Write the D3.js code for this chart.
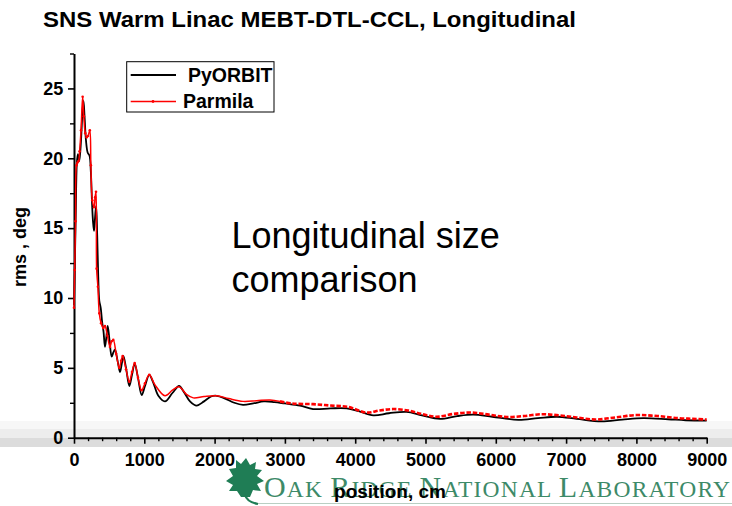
<!DOCTYPE html>
<html>
<head>
<meta charset="utf-8">
<script src="https://cdn.jsdelivr.net/npm/d3@7"></script>
<style>
  html, body { margin: 0; padding: 0; background: #ffffff; }
  svg { display: block; }
  text { font-family: Arial, "Liberation Sans", Helvetica, sans-serif; }
</style>
</head>
<body>
<svg id="chart" width="732" height="506"></svg>
<script>
// ---- data: rms bunch length (deg) along the warm linac (position in cm) ----
const pyorbitPos = [0, 12, 25, 40, 55, 75, 100, 120, 135, 150, 170, 195, 220, 240, 255, 270, 285, 300, 315, 330,
  345, 360, 380, 400, 420, 441, 460, 479, 505, 536, 560, 583, 620, 654, 680, 702, 740, 787, 825, 863,
  910, 963, 1010, 1071, 1130, 1200, 1294, 1400, 1494, 1560, 1650, 1745, 1850, 1950, 2030, 2150, 2280, 2404, 2550, 2700,
  2850, 3000, 3215, 3400, 3650, 3880, 4050, 4258, 4480, 4730, 4950, 5205, 5450, 5680, 5950, 6320, 6600, 6870, 7150, 7500,
  7800, 8100, 8450, 8700, 9000];
const pyorbitRms = [9.5, 12.5, 16.0, 19.6, 20.3, 19.8, 21.3, 23.3, 24.1, 23.0, 21.3, 20.4, 20.2, 19.0, 17.0, 15.5, 14.8, 15.8, 16.6, 14.5,
  11.5, 9.8, 9.3, 8.3, 7.6, 6.5, 7.2, 8.0, 7.0, 5.8, 6.1, 6.3, 5.5, 4.7, 5.3, 5.85, 5.0, 3.7, 4.5, 5.3,
  4.3, 3.05, 3.7, 4.5, 3.9, 3.0, 2.6, 3.2, 3.7, 3.3, 2.6, 2.3, 2.6, 2.95, 3.0, 2.8, 2.5, 2.35, 2.45, 2.6,
  2.55, 2.45, 2.3, 2.05, 2.1, 2.1, 1.9, 1.6, 1.75, 1.85, 1.6, 1.35, 1.55, 1.65, 1.5, 1.28, 1.4, 1.5, 1.35, 1.17,
  1.3, 1.4, 1.32, 1.25, 1.22];

const parmilaPos = [0, 10, 22, 35, 50, 65, 80, 100, 123, 140, 160, 180, 200, 225, 240, 260, 285, 300, 313, 322,
  340, 360, 385, 417, 440, 475, 512, 535, 559, 600, 644, 670, 692, 740, 787, 825, 863, 910, 963, 1010,
  1071, 1150, 1294, 1400, 1494, 1600, 1697, 1850, 2030, 2200, 2404, 2600, 2788, 2930, 3100, 3400, 3650, 3900, 4160, 4350,
  4540, 4750, 4950, 5160, 5400, 5650, 5900, 6155, 6400, 6650, 6900, 7150, 7420, 7700, 8000, 8300, 8600, 8800, 9000];
const parmilaRms = [9.3, 12.0, 15.5, 19.5, 19.7, 19.8, 20.5, 22.0, 24.4, 23.0, 21.8, 21.5, 21.6, 22.0, 19.5, 17.0, 16.5, 17.2, 17.6, 12.1,
  10.8, 8.9, 8.2, 7.85, 8.0, 7.3, 6.5, 6.9, 7.0, 6.0, 5.0, 5.5, 5.85, 4.9, 4.0, 4.7, 5.35, 4.3, 3.4, 3.9,
  4.5, 3.8, 3.0, 3.4, 3.65, 3.1, 2.85, 2.95, 3.0, 2.8, 2.6, 2.65, 2.7, 2.6, 2.45, 2.4, 2.3, 2.2, 1.8, 1.95,
  2.05, 1.95, 1.7, 1.5, 1.7, 1.8, 1.65, 1.48, 1.55, 1.68, 1.6, 1.45, 1.3, 1.45, 1.62, 1.55, 1.4, 1.35, 1.3];

const seriesNames = ["PyORBIT", "Parmila"];
const xMajorTicks = [0, 1000, 2000, 3000, 4000, 5000, 6000, 7000, 8000, 9000];
const yMajorTicks = [0, 5, 10, 15, 20, 25];

const svg = d3.select("#chart");

// ---- slide footer: grey band and laboratory logo ----
svg.append("rect").attr("x", 0).attr("y", 421).attr("width", 732).attr("height", 8).attr("fill", "#f7f7f7");
svg.append("rect").attr("x", 0).attr("y", 429).attr("width", 732).attr("height", 9).attr("fill", "#ededed");
svg.append("rect").attr("x", 0).attr("y", 438).attr("width", 732).attr("height", 9).attr("fill", "#dcdcdc");

const logo = svg.append("g");
logo.append("line").attr("x1", 256).attr("x2", 732).attr("y1", 503.5).attr("y2", 503.5)
  .attr("stroke", "#b9cfc3").attr("stroke-width", 1.2);
// oak leaf emblem
logo.append("path")
  .attr("transform", "translate(245,458)")
  .attr("d", "M1,0 L5,7 L11,4 L10,11 L17,12 L12,18 L19,23 L12,26 L16,33 L8,32 L5,39 L-4,39 L-8,33 L-16,33 L-12,27 L-19,23 L-12,18 L-16,11 L-9,10 L-9,2 L-4,6 Z")
  .attr("fill", "#1f7d55");
logo.append("path")
  .attr("transform", "translate(245,458)")
  .attr("d", "M0,37 Q2,44 13,46")
  .attr("fill", "none").attr("stroke", "#1f7d55").attr("stroke-width", 2.2);
const orn = logo.append("text")
  .attr("x", 264).attr("y", 497)
  .attr("textLength", 466).attr("lengthAdjust", "spacing")
  .style("font-family", "'Liberation Serif', 'Times New Roman', serif")
  .attr("fill", "#3d8a68");
[["O", 30], ["AK ", 23.5], ["R", 30], ["IDGE ", 23.5], ["N", 30], ["ATIONAL ", 23.5], ["L", 30], ["ABORATORY", 23.5]]
  .forEach(([t, s]) => orn.append("tspan").attr("font-size", s).text(t));

// ---- scales ----
const x = d3.scaleLinear().domain([0, 9000]).range([74, 706.7]);
const y = d3.scaleLinear().domain([0, 27.5]).range([437.7, 53.5]);

// ---- title ----
svg.append("text").attr("x", 43).attr("y", 27)
  .attr("font-size", 22).attr("font-weight", "bold")
  .attr("textLength", 533).attr("lengthAdjust", "spacingAndGlyphs")
  .text("SNS Warm Linac MEBT-DTL-CCL, Longitudinal");

// ---- axes ----
const xMinor = d3.range(0, 9001, 200).filter(v => v % 1000 !== 0);
const yMinor = [2.5, 7.5, 12.5, 17.5, 22.5, 27.5];

svg.append("g").attr("transform", "translate(0,437.7)")
  .call(d3.axisBottom(x).tickValues(xMinor).tickSize(3.5).tickFormat(""))
  .call(g => g.select(".domain").remove())
  .call(g => g.selectAll("line").attr("stroke-width", 1.4));
svg.append("g").attr("transform", "translate(74,0)")
  .call(d3.axisLeft(y).tickValues(yMinor).tickSize(4).tickFormat(""))
  .call(g => g.select(".domain").remove())
  .call(g => g.selectAll("line").attr("stroke-width", 1.4));

const xAxis = svg.append("g").attr("transform", "translate(0,437.7)")
  .call(d3.axisBottom(x).tickValues(xMajorTicks).tickSize(6).tickSizeOuter(0).tickPadding(9.5).tickFormat(d3.format("d")));
const yAxis = svg.append("g").attr("transform", "translate(74,0)")
  .call(d3.axisLeft(y).tickValues(yMajorTicks).tickSize(6).tickSizeOuter(0).tickPadding(4.7).tickFormat(d3.format("d")));
[xAxis, yAxis].forEach(a => {
  a.select(".domain").attr("stroke-width", 2);
  a.selectAll(".tick line").attr("stroke-width", 1.6);
  a.selectAll("text").attr("font-size", 18).attr("font-weight", "bold")
    .attr("font-family", "Arial, 'Liberation Sans', sans-serif").attr("fill", "#000");
});

// axis titles
svg.append("text").attr("transform", "translate(26,247) rotate(-90)")
  .attr("text-anchor", "middle").attr("font-size", 18).attr("font-weight", "bold")
  .text("rms , deg");
svg.append("text").attr("x", 390).attr("y", 498)
  .attr("text-anchor", "middle").attr("font-size", 19).attr("font-weight", "bold")
  .text("position, cm");

// ---- curves ----
const line = d3.line().x(d => x(d[0])).y(d => y(d[1])).curve(d3.curveCatmullRom.alpha(0.5));
const pyData = pyorbitPos.map((p, i) => [p, pyorbitRms[i]]);
const pmData = parmilaPos.map((p, i) => [p, parmilaRms[i]]);

svg.append("path").datum(pyData).attr("d", line)
  .attr("fill", "none").attr("stroke", "#000").attr("stroke-width", 1.8);

// Parmila: thin line with point markers upstream, dense dashed markers downstream
const split = 2930;
svg.append("path").datum(pmData.filter(d => d[0] <= split)).attr("d", line)
  .attr("fill", "none").attr("stroke", "#ff0000").attr("stroke-width", 1.5);
svg.append("path").datum(pmData.filter(d => d[0] >= split)).attr("d", line)
  .attr("fill", "none").attr("stroke", "#ff0000").attr("stroke-width", 2.6)
  .attr("stroke-dasharray", "4.5,1.8");
svg.append("g").selectAll("circle").data(pmData.filter(d => d[0] <= 1100)).join("circle")
  .attr("cx", d => x(d[0])).attr("cy", d => y(d[1])).attr("r", 1.3).attr("fill", "#ff0000");

// ---- legend ----
const lg = svg.append("g");
lg.append("rect").attr("x", 126.7).attr("y", 61.7).attr("width", 147.3).attr("height", 50.3)
  .attr("fill", "#fff").attr("stroke", "#000").attr("stroke-width", 1);
lg.append("line").attr("x1", 130.7).attr("x2", 176).attr("y1", 75).attr("y2", 75)
  .attr("stroke", "#000").attr("stroke-width", 1.8);
lg.append("line").attr("x1", 130.7).attr("x2", 176).attr("y1", 101.5).attr("y2", 101.5)
  .attr("stroke", "#ff0000").attr("stroke-width", 1.3);
lg.append("circle").attr("cx", 153).attr("cy", 101.5).attr("r", 1.4).attr("fill", "#ff0000");
lg.append("text").attr("x", 188).attr("y", 81.7).attr("font-size", 19.5).attr("font-weight", "bold").text(seriesNames[0]);
lg.append("text").attr("x", 183).attr("y", 107.7).attr("font-size", 19.5).attr("font-weight", "bold").text(seriesNames[1]);

// ---- annotation ----
const note = svg.append("text").attr("font-size", 36).attr("fill", "#000");
note.append("tspan").attr("x", 231.5).attr("y", 248).text("Longitudinal size");
note.append("tspan").attr("x", 231.5).attr("y", 292).text("comparison");
</script>
</body>
</html>
